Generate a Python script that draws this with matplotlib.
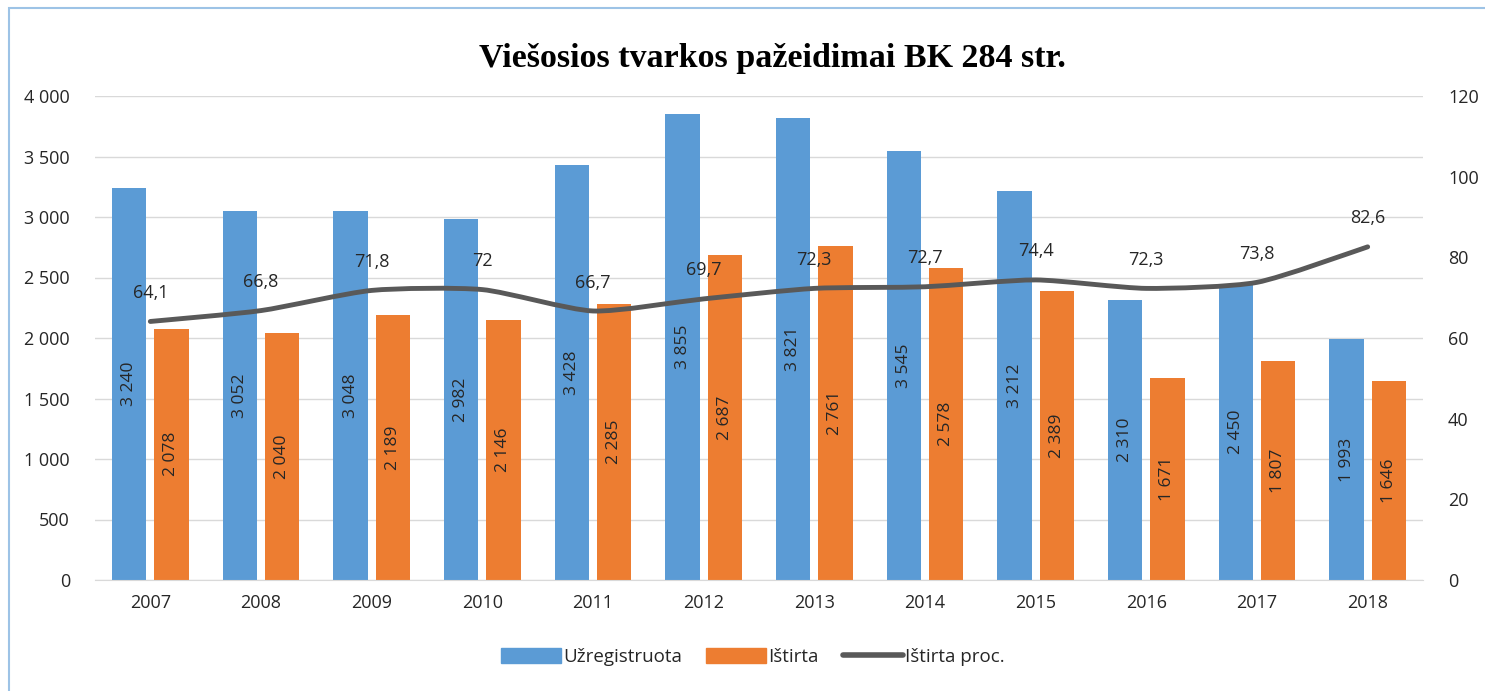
import numpy as np
import matplotlib.pyplot as plt
from matplotlib.path import Path
from matplotlib.patches import PathPatch, Rectangle
from matplotlib.lines import Line2D

years = ["2007", "2008", "2009", "2010", "2011", "2012",
         "2013", "2014", "2015", "2016", "2017", "2018"]
registered = [3240, 3052, 3048, 2982, 3428, 3855, 3821, 3545, 3212, 2310, 2450, 1993]
solved = [2078, 2040, 2189, 2146, 2285, 2687, 2761, 2578, 2389, 1671, 1807, 1646]
solved_pct = [64.1, 66.8, 71.8, 72, 66.7, 69.7, 72.3, 72.7, 74.4, 72.3, 73.8, 82.6]

BLUE = "#5B9BD5"
ORANGE = "#ED7D31"
GREY = "#595959"
TXT = "#262626"

plt.rcParams["font.family"] = ["Open Sans", "DejaVu Sans"]


def fmt_thousands(v):
    return f"{v:,}".replace(",", " ")


def smooth_path(xs, ys, t=0.11):
    """Bezier path through the points, like Excel's smoothed line."""
    pts = list(zip(xs, ys))
    verts = [pts[0]]
    codes = [Path.MOVETO]
    n = len(pts)
    for i in range(n - 1):
        p0 = pts[i - 1] if i > 0 else pts[i]
        p1, p2 = pts[i], pts[i + 1]
        p3 = pts[i + 2] if i + 2 < n else pts[i + 1]
        c1 = (p1[0] + (p2[0] - p0[0]) * t, p1[1] + (p2[1] - p0[1]) * t)
        c2 = (p2[0] - (p3[0] - p1[0]) * t, p2[1] - (p3[1] - p1[1]) * t)
        verts += [c1, c2, p2]
        codes += [Path.CURVE4] * 3
    return Path(verts, codes)


fig = plt.figure(figsize=(14.85, 6.91), dpi=100)
ax = fig.add_axes([95 / 1485, 1 - 580 / 691, 1328 / 1485, 484 / 691])
ax2 = ax.twinx()

x = np.arange(len(years))
w = 0.31
off = 0.19
ax.bar(x - off, registered, w, color=BLUE, label="Užregistruota", zorder=2)
ax.bar(x + off, solved, w, color=ORANGE, label="Ištirta", zorder=2)

for xi, v in zip(x, registered):
    ax.text(xi - off, v / 2, fmt_thousands(v), rotation=90, ha="center",
            va="center", fontsize=12.5, color=TXT, zorder=3)
for xi, v in zip(x, solved):
    ax.text(xi + off, v / 2, fmt_thousands(v), rotation=90, ha="center",
            va="center", fontsize=12.5, color=TXT, zorder=3)

ax.set_xlim(-0.5, len(years) - 0.5)
ax.set_ylim(0, 4000)
ax.set_yticks(range(0, 4001, 500))
ax.set_yticklabels([fmt_thousands(v) for v in range(0, 4001, 500)])
ax.set_xticks(x)
ax.set_xticklabels(years)
ax.grid(axis="y", color="#D9D9D9", linewidth=1, zorder=0)
ax.set_axisbelow(True)
ax.tick_params(axis="both", length=0, labelsize=13, labelcolor=TXT)
ax.tick_params(axis="x", pad=10)
ax.tick_params(axis="y", pad=18)
for s in ["top", "right", "left"]:
    ax.spines[s].set_visible(False)
ax.spines["bottom"].set_color("#D9D9D9")

# percentage line on the right axis
ax2.set_ylim(0, 120)
ax2.set_yticks(range(0, 121, 20))
ax2.tick_params(axis="y", length=0, labelsize=13, labelcolor=TXT, pad=18)
for s in ax2.spines.values():
    s.set_visible(False)
ax2.add_patch(PathPatch(smooth_path(x, solved_pct), facecolor="none",
                        edgecolor=GREY, linewidth=3.5, capstyle="round", zorder=4))
for xi, v in zip(x, solved_pct):
    lbl = f"{v:g}".replace(".", ",")
    ax2.annotate(lbl, (xi, v), xytext=(0, 14), textcoords="offset points",
                 ha="center", va="bottom", fontsize=13, color=TXT)

fig.text(0.52, 1 - 58 / 691, "Viešosios tvarkos pažeidimai BK 284 str.",
         ha="center", va="center", fontsize=24.5, fontweight="bold",
         family="Liberation Serif", color="#000000")

handles = [Rectangle((0, 0), 1, 1, color=BLUE),
           Rectangle((0, 0), 1, 1, color=ORANGE),
           Line2D([], [], color=GREY, linewidth=4, solid_capstyle="round")]
fig.legend(handles, ["Užregistruota", "Ištirta", "Ištirta proc."],
           loc="center", bbox_to_anchor=(0.507, 1 - 657 / 691), ncol=3,
           frameon=False, fontsize=13.5, handlelength=3.2, handleheight=0.8,
           handletextpad=0.1, columnspacing=1.3, labelcolor=TXT)

# light blue frame around the chart
fig.patches.append(Rectangle((9 / 1485, -0.1), 1.2, 1 - 8 / 691 + 0.1,
                             transform=fig.transFigure, fill=False,
                             edgecolor="#9DC3E6", linewidth=1.5))

fig.savefig("out.png", dpi=100)
